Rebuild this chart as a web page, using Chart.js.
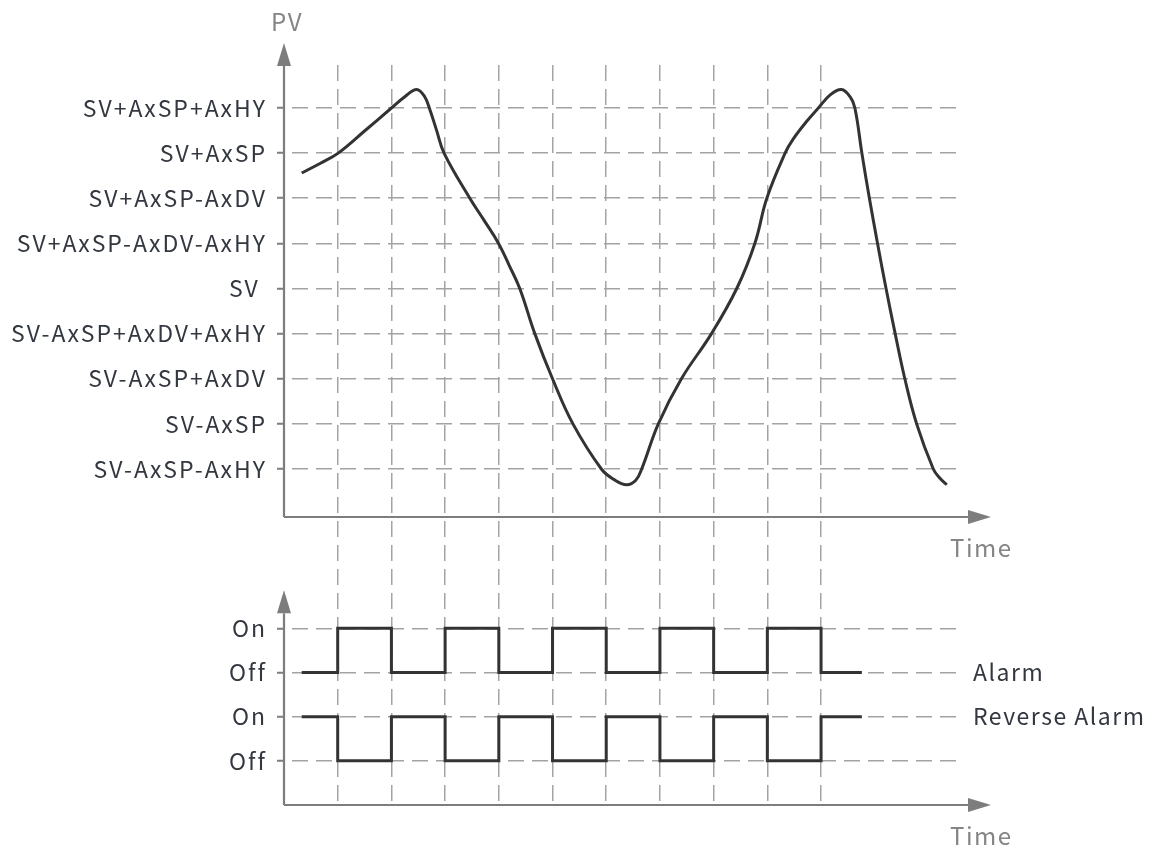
<!DOCTYPE html>
<html>
<head>
<meta charset="utf-8">
<title>PV alarm</title>
<script src="https://cdn.jsdelivr.net/npm/chart.js@4/dist/chart.umd.min.js"></script>
<style>
  html, body { margin: 0; padding: 0; background: #fff; }
  #wrap { width: 1151px; height: 851px; }
</style>
</head>
<body>
<div id="wrap"><canvas id="chart" width="1151" height="851"></canvas></div>
<script>
// y軸ラベル（下から上へ）
const pvLabels = ['SV-AxSP-AxHY', 'SV-AxSP', 'SV-AxSP+AxDV', 'SV-AxSP+AxDV+AxHY', 'SV ',
                  'SV+AxSP-AxDV-AxHY', 'SV+AxSP-AxDV', 'SV+AxSP', 'SV+AxSP+AxHY'];
const stateLabels = ['Off', 'On'];
const timeTicks = [1, 2, 3, 4, 5, 6, 7, 8, 9, 10];

// PV の曲線
const pvTime = [0.33, 0.67, 1.01, 1.50, 2.00, 2.25, 2.47, 2.62, 2.72, 2.84, 2.98, 3.46, 3.72,
                3.99, 4.19, 4.39, 4.67, 5.00, 5.38, 5.91, 6.14, 6.38, 6.55, 6.66, 6.97, 7.40, 7.96,
                8.43, 8.77, 8.99, 9.33, 9.48, 9.73, 9.95, 10.17, 10.38, 10.54, 10.63, 10.76, 10.90,
                11.05, 11.21, 11.38, 11.56, 11.78, 12.09, 12.21, 12.34];
const pvValue = [6.56, 6.77, 7.00, 7.49, 8.00, 8.25, 8.41, 8.25, 7.95, 7.51, 7.00, 6.00, 5.52,
                 5.01, 4.52, 4.00, 3.00, 2.00, 1.00, 0.00, -0.23, -0.35, -0.25, 0.00, 1.00, 2.00, 3.00,
                 4.00, 5.01, 6.00, 7.00, 7.31, 7.70, 8.00, 8.29, 8.41, 8.25, 8.00, 7.00, 6.00,
                 5.01, 4.00, 3.00, 2.00, 1.00, 0.00, -0.20, -0.35];

// 警報出力 (0 = Off, 1 = On)
const alarmTime = [0.33, 1, 2, 3, 4, 5, 6, 7, 8, 9, 10, 10.76];
const alarmState = [0, 1, 0, 1, 0, 1, 0, 1, 0, 1, 0, 0];
const reverseState = [1, 0, 1, 0, 1, 0, 1, 0, 1, 0, 1, 1];

const FONT = "'Noto Sans CJK JP', 'Noto Sans', sans-serif";
const TEXT = '#333840';
const AXIS = '#7d7d7d';
const GRID = '#a3a3a3';

// 矢印付きの軸線を描く
function arrowLine(ctx, x1, y1, x2, y2) {
    const ang = Math.atan2(y2 - y1, x2 - x1);
    const len = 23, half = 7;
    const bx = x2 - Math.cos(ang) * len, by = y2 - Math.sin(ang) * len;
    ctx.beginPath();
    ctx.moveTo(x1, y1);
    ctx.lineTo(bx, by);
    ctx.stroke();
    ctx.beginPath();
    ctx.moveTo(x2, y2);
    ctx.lineTo(bx - Math.sin(ang) * half, by + Math.cos(ang) * half);
    ctx.lineTo(bx + Math.sin(ang) * half, by - Math.cos(ang) * half);
    ctx.closePath();
    ctx.fill();
}

const axesPlugin = {
    id: 'axesPlugin',
    beforeDraw(chart) {
        chart.ctx.letterSpacing = '2px';
    },
    afterDraw(chart) {
        const ctx = chart.ctx;
        const area = chart.chartArea;
        const x = chart.scales.x;
        const yPV = chart.scales.yPV;
        const yAl = chart.scales.yAlarm;
        const x0 = x.getPixelForValue(0);
        const xEnd = area.right + 28;

        ctx.save();
        ctx.strokeStyle = AXIS;
        ctx.fillStyle = AXIS;
        ctx.lineWidth = 2.2;
        // 上段
        arrowLine(ctx, x0, yPV.bottom, x0, yPV.getPixelForValue(8) - 65);
        arrowLine(ctx, x0, yPV.bottom, xEnd, yPV.bottom);
        // 下段
        arrowLine(ctx, x0, yAl.bottom, x0, yAl.getPixelForValue(3) - 38);
        arrowLine(ctx, x0, yAl.bottom, xEnd, yAl.bottom);

        // 軸タイトル
        ctx.letterSpacing = '1.5px';
        ctx.font = '24px ' + FONT;
        ctx.fillStyle = '#858585';
        ctx.textBaseline = 'alphabetic';
        ctx.textAlign = 'center';
        ctx.fillText('PV', x0 + 3, 31);
        ctx.textAlign = 'left';
        ctx.fillText('Time', 950, yPV.bottom + 40);
        ctx.fillText('Time', 950, yAl.bottom + 40);

        // 系列名
        ctx.font = '23px ' + FONT;
        ctx.fillStyle = TEXT;
        ctx.textBaseline = 'middle';
        chart.data.datasets.forEach(ds => {
            if (ds.yAxisID !== 'yAlarm') return;
            const last = ds.data[ds.data.length - 1];
            ctx.fillText(ds.label, area.right + 10, yAl.getPixelForValue(last.y));
        });
        ctx.restore();
        ctx.letterSpacing = '0px';
    }
};

const yCommon = {
    position: 'left',
    stack: 'panels',
    border: { display: false, dash: [16, 8], dashOffset: 16 },
    grid: { color: GRID, lineWidth: 1.5, drawTicks: true, tickLength: 7, tickColor: AXIS, tickWidth: 2 },
    ticks: { color: TEXT, padding: 10, autoSkip: false, font: { family: FONT, size: 23 } },
    afterFit: s => { s.width = 284; }
};

new Chart(document.getElementById('chart'), {
    type: 'line',
    data: {
        datasets: [
            {
                label: 'PV',
                yAxisID: 'yPV',
                data: pvTime.map((t, i) => ({ x: t, y: pvValue[i] })),
                borderColor: '#333333',
                borderWidth: 3,
                pointRadius: 0,
                tension: 0.4,
                fill: false
            },
            {
                label: 'Alarm',
                yAxisID: 'yAlarm',
                data: alarmTime.map((t, i) => ({ x: t, y: alarmState[i] + 2 })),
                borderColor: '#333333',
                borderWidth: 3,
                pointRadius: 0,
                stepped: true,
                fill: false
            },
            {
                label: 'Reverse Alarm',
                yAxisID: 'yAlarm',
                data: alarmTime.map((t, i) => ({ x: t, y: reverseState[i] })),
                borderColor: '#333333',
                borderWidth: 3,
                pointRadius: 0,
                stepped: true,
                fill: false
            }
        ]
    },
    options: {
        responsive: false,
        devicePixelRatio: 1,
        animation: false,
        layout: { padding: { top: 65, right: 188, bottom: 46, left: 0 } },
        plugins: { legend: { display: false }, tooltip: { enabled: false } },
        scales: {
            x: {
                type: 'linear',
                min: 0,
                max: 12.643,
                border: { display: false, dash: [16, 8] },
                grid: { color: GRID, lineWidth: 1.5, drawTicks: false },
                ticks: { display: false },
                afterBuildTicks: s => { s.ticks = timeTicks.map(v => ({ value: v })); },
                afterFit: s => { s.height = 0; }
            },
            // 左側のスタックは後に定義したものが上に来る
            yAlarm: Object.assign({}, yCommon, {
                type: 'linear',
                stackWeight: 288,
                min: -1.0,
                max: 5.52,
                afterBuildTicks: s => { s.ticks = [0, 1, 2, 3].map(v => ({ value: v })); },
                ticks: Object.assign({}, yCommon.ticks, { callback: v => stateLabels[v % 2] })
            }),
            yPV: Object.assign({}, yCommon, {
                type: 'linear',
                stackWeight: 452,
                min: -1.064,
                max: 8.953,
                afterBuildTicks: s => { s.ticks = pvLabels.map((_, i) => ({ value: i })); },
                ticks: Object.assign({}, yCommon.ticks, { callback: v => pvLabels[v] })
            })
        }
    },
    plugins: [axesPlugin]
});
</script>
</body>
</html>
